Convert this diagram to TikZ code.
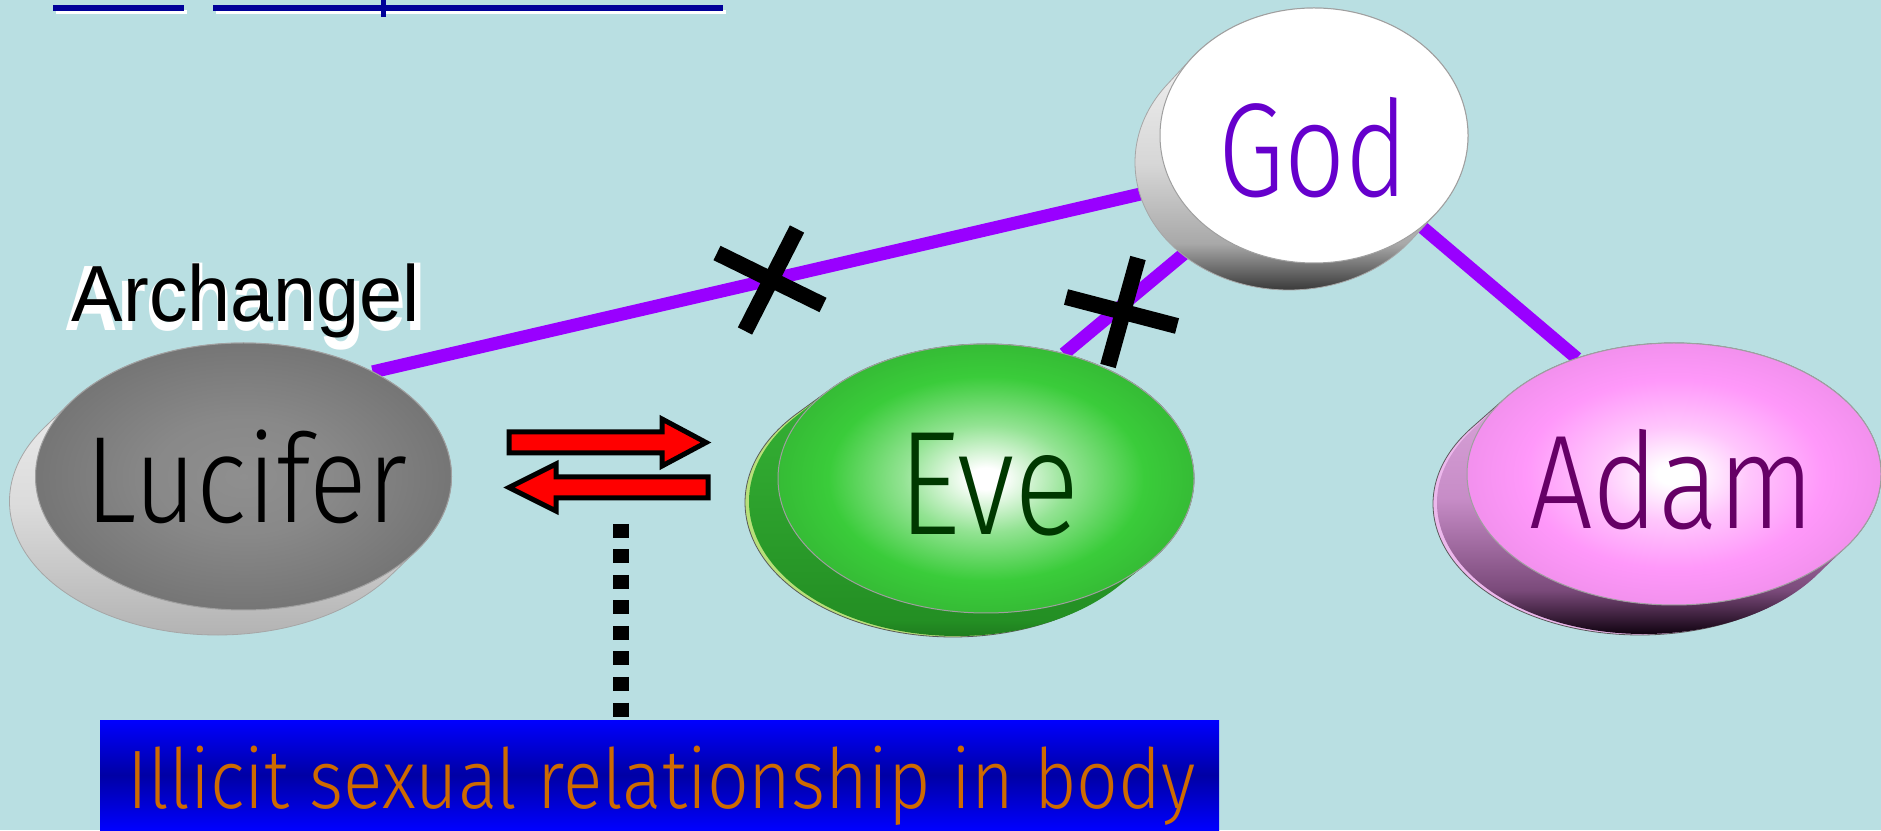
\documentclass[tikz,border=0pt]{standalone}
\usepackage{fontspec}
\usepackage{graphicx}
\usetikzlibrary{shapes.geometric,calc}
\newfontfamily\thinfont{Fira Sans Light}
\newfontfamily\arialfont{Liberation Sans}
\newfontfamily\arialbold{Liberation Sans Bold}
\definecolor{bgc}{RGB}{185,223,226}
\definecolor{linkc}{RGB}{153,0,255}
\definecolor{godtc}{RGB}{102,0,204}
\definecolor{evetc}{RGB}{0,56,0}
\definecolor{adamtc}{RGB}{102,0,102}
\definecolor{evegreen}{RGB}{58,204,58}
\definecolor{evelight}{RGB}{184,224,122}
\definecolor{adampink}{RGB}{255,152,250}
\definecolor{adamlight}{RGB}{236,184,236}
\definecolor{boxblue}{RGB}{0,0,255}
\definecolor{boxdark}{RGB}{0,0,165}
\definecolor{bodyc}{RGB}{206,106,0}
\definecolor{ulc}{RGB}{0,0,153}
\pgfdeclarelayer{bg}\pgfdeclarelayer{side}\pgfsetlayers{bg,side,main}
% radial shadings: the ellipse border lies at 25bp
\pgfdeclareradialshading{lucsh}{\pgfpointorigin}{rgb(0bp)=(0.56,0.56,0.56); rgb(11bp)=(0.535,0.535,0.535); rgb(25bp)=(0.46,0.46,0.46); rgb(50bp)=(0.46,0.46,0.46)}
\pgfdeclareradialshading{evesh}{\pgfpointorigin}{color(0bp)=(white); color(2bp)=(white); color(10bp)=(white!45!evegreen); color(19bp)=(evegreen); color(25bp)=(evegreen!92!black); color(50bp)=(evegreen!92!black)}
\pgfdeclareradialshading{adamsh}{\pgfpointorigin}{color(0bp)=(white); color(2bp)=(white); color(9bp)=(white!45!adampink); color(18bp)=(adampink); color(25bp)=(adampink!95!black); color(50bp)=(adampink!95!black)}
% vertical shadings: the path's box runs from 25bp (bottom) to 75bp (top)
\pgfdeclareverticalshading{godside}{100bp}{rgb(0bp)=(0,0,0); rgb(25bp)=(0,0,0); rgb(27bp)=(0.19,0.19,0.19); rgb(35bp)=(0.66,0.66,0.66); rgb(47.5bp)=(0.84,0.84,0.84); rgb(75bp)=(1,1,1); rgb(100bp)=(1,1,1)}
\pgfdeclareverticalshading{lucside}{100bp}{rgb(0bp)=(0.68,0.68,0.68); rgb(25bp)=(0.68,0.68,0.68); rgb(47.5bp)=(0.86,0.86,0.86); rgb(75bp)=(0.96,0.96,0.96); rgb(100bp)=(0.96,0.96,0.96)}
\pgfdeclareverticalshading{eveside}{100bp}{rgb(0bp)=(0.10,0.42,0.10); rgb(25bp)=(0.10,0.42,0.10); rgb(30bp)=(0.14,0.56,0.14); rgb(55bp)=(0.19,0.66,0.19); rgb(75bp)=(0.22,0.72,0.22); rgb(100bp)=(0.22,0.72,0.22)}
\pgfdeclareverticalshading{adamside}{100bp}{rgb(0bp)=(0,0,0); rgb(25bp)=(0,0,0); rgb(28bp)=(0.08,0.02,0.08); rgb(34.5bp)=(0.48,0.29,0.48); rgb(48.5bp)=(0.78,0.55,0.78); rgb(75bp)=(0.9,0.7,0.9); rgb(100bp)=(0.9,0.7,0.9)}
\newcommand\discbody[6]{%
  \pgfmathsetmacro\tone{atan(-(#3)*(#4)/((#2)*(#5)))}%
  \pgfmathsetmacro\ttwo{\tone+180}%
  \pgfmathsetmacro\tthree{\tone+360}%
  \path[#6] ($(#1)+(\tone:#2 and #3)$) arc[start angle=\tone, end angle=\ttwo, x radius=#2, y radius=#3] -- ++(#4,#5) arc[start angle=\ttwo, end angle=\tthree, x radius=#2, y radius=#3] -- cycle;}
% one thick bar of a cross, as a filled quadrilateral
\newcommand\xstroke[2]{\fill[black] ($#1!8pt!90:#2$) -- ($#2!8pt!-90:#1$) -- ($#2!8pt!90:#1$) -- ($#1!8pt!-90:#2$) -- cycle;}
\tikzset{
  face/.style={ellipse, inner sep=0pt, outer sep=0pt, draw=gray!75, line width=1pt},
  link/.style={draw=linkc, line width=13pt},
  redarrow/.style={fill=red, draw=black, line width=5pt, miter limit=10},
  bigname/.style={inner sep=0pt, outer sep=0pt, anchor=base},
}
\begin{document}
\begin{tikzpicture}[x=1pt,y=1pt]
\useasboundingbox (0,0) rectangle (1881,830);
\begin{pgfonlayer}{bg}
  \fill[bgc] (0,0) rectangle (1881,830);
  % cut-off hyperlink underlines at the top
  \fill[white] (56,816) rectangle (187,820);
  \fill[white] (216,816) rectangle (726,820);
  \fill[ulc] (53,819) rectangle (184,825);
  \fill[ulc] (213,819) rectangle (723,825);
  \fill[ulc] (381,813) rectangle (386,830);
\end{pgfonlayer}

% ---------- discs: faces ----------
\node[face, fill=white, minimum width=308pt, minimum height=255pt] (god) at (1314,694.5) {};
\node[face, shade, shading=lucsh, minimum width=416pt, minimum height=267pt] (luc) at (243.5,353.5) {};
\node[face, shade, shading=evesh, minimum width=416pt, minimum height=269pt] (eve) at (986,351.5) {};
\node[face, shade, shading=adamsh, minimum width=414pt, minimum height=262pt] (adam) at (1674,356) {};

% ---------- discs: sides ----------
\begin{pgfonlayer}{side}
  \discbody{god}{154}{127.5}{-25}{-27}{shade, shading=godside, draw=gray!70, line width=0.8pt}
  \discbody{luc}{208}{133.5}{-26}{-25}{shade, shading=lucside, draw=gray!70, line width=0.8pt}
  \discbody{eve}{208}{134.5}{-33}{-24}{fill=evelight, draw=gray!70!black, line width=0.8pt}
  \discbody{eve}{208}{134.5}{-29}{-23}{shade, shading=eveside}
  \discbody{adam}{207}{131}{-34}{-30}{fill=adamlight, draw=gray!70!black, line width=0.8pt}
  \discbody{adam}{207}{131}{-30}{-29}{shade, shading=adamside}
\end{pgfonlayer}

% ---------- names ----------
\node[bigname, text=godtc, font={\thinfont\fontsize{133.5}{134}\selectfont}] (godt) at (1313,633) {\resizebox{190pt}{\height}{God}};
\node[bigname, text=black, font={\thinfont\fontsize{123}{124}\selectfont}] (luct) at (246,307) {\resizebox{322pt}{\height}{Lucifer}};
\node[bigname, text=evetc, font={\thinfont\fontsize{148}{148}\selectfont}] (evet) at (989,295) {\resizebox{182pt}{\height}{Eve}};
\node[bigname, text=adamtc, font={\thinfont\fontsize{133.5}{134}\selectfont}] (adamt) at (1672,301) {\resizebox{286pt}{\height}{Adam}};

% ---------- connectors (behind everything) ----------
\begin{pgfonlayer}{bg}
  \draw[link] (luc.39) -- ($(god.center)+(-154,-54)$);
  \draw[link] (eve.58) -- ($(god.center)+(0,-10)$);
  \draw[link] (god.center) -- (adam.130);
\end{pgfonlayer}

% ---------- crosses ----------
\xstroke{(717,577)}{(823,525)}
\xstroke{(797,601)}{(745,499)}
\xstroke{(1066,533)}{(1177,504)}
\xstroke{(1138,572)}{(1108,464)}

% ---------- Archangel label ----------
\node[bigname, text=white, font={\arialbold\fontsize{93}{94}\selectfont}] (archsh) at (245,499) {\resizebox{362pt}{\height}{Archangel}};
\node[bigname, text=black, font={\arialfont\fontsize{79.6}{80}\selectfont}] (arch) at (246,508) {\resizebox{348pt}{\height}{Archangel}};

% ---------- red double arrow ----------
\draw[redarrow] (509,398) -- (662,398) -- (662,411) -- (706,387.5) -- (662,364) -- (662,377) -- (509,377) -- cycle;
\draw[redarrow] (509,342.5) -- (556,366) -- (556,353) -- (708,353) -- (708,332) -- (556,332) -- (556,319) -- cycle;

% ---------- bottom box ----------
\node[minimum width=1119pt, minimum height=110pt, inner sep=0pt, outer sep=0pt, anchor=south west,
      top color=boxblue, bottom color=boxblue, middle color=boxdark] (box) at (100,0) {};
\node[bigname, text=bodyc, font={\thinfont\fontsize{83}{84}\selectfont}] (boxt) at (662,22) {\resizebox{1068pt}{\height}{Illicit sexual relationship in body}};

% ---------- dotted connector ----------
\coordinate (dtop) at (620.5,306);
\draw[black, line width=16pt, dash pattern=on 14pt off 11.5pt] (dtop) -- (box.north -| dtop);
\end{tikzpicture}
\end{document}
